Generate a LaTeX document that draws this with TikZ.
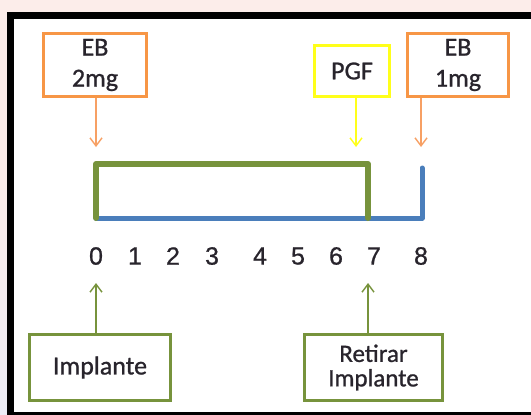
\documentclass[tikz,border=0pt]{standalone}
\usepackage{fontspec}
\setmainfont{Carlito}[FakeBold=0.9]
\newfontfamily\numfont{Liberation Sans}[FakeBold=0.8]
\usetikzlibrary{arrows.meta}
\definecolor{pinkbg}{HTML}{FCEDEA}
\definecolor{lavbg}{HTML}{EDEDF6}
\definecolor{ebor}{HTML}{F79646}
\definecolor{ebarrow}{HTML}{F7A064}
\definecolor{pgfy}{HTML}{FFFF1A}
\definecolor{grn}{HTML}{77933C}
\definecolor{blu}{HTML}{4A7EBB}
\definecolor{txt}{HTML}{28242C}
\tikzset{
  box/.style={draw, line width=3pt, fill=white, inner sep=0pt, align=center,
    text=txt, font=\fontsize{26}{31}\selectfont},
  pointer/.style={line width=1.4pt, -{Straight Barb[length=8pt,width=12pt,line width=1.4pt]}},
  daylabel/.style={text=txt, font=\numfont\fontsize{25}{25}\selectfont, inner sep=0pt}
}
\begin{document}
\begin{tikzpicture}[x=1pt,y=-1pt]
\useasboundingbox (0,0) rectangle (531,415);
% page background and black frame
\fill[pinkbg] (0,0) rectangle (531,415);
\shade[top color=pinkbg, bottom color=lavbg] (0,180) rectangle (7,415);
\fill[black] (7,12) rectangle (531,415);
\fill[white] (14,19) rectangle (531,412);

% hormone boxes
\node[box, draw=ebor, minimum width=103pt, minimum height=63pt] (eb2) at (95,65) {EB\\2mg};
\node[box, draw=pgfy, minimum width=75pt, minimum height=51pt] (pgf) at (352,71) {PGF};
\node[box, draw=ebor, minimum width=101pt, minimum height=63pt] (eb1) at (458,65) {EB\\1mg};

% implant boxes
\node[box, draw=grn, line width=3.5pt, minimum width=141pt, minimum height=66pt] (impl) at (100,367.5) {Implante};
\node[box, draw=grn, line width=3.5pt, minimum width=138pt, minimum height=66pt,
      font=\fontsize{25}{24.5}\selectfont] (ret) at (373.5,367.5) {Retirar\\Implante};

% timeline
\coordinate (t0) at (96,218);
\coordinate (t7) at (368,218);
\coordinate (t8) at (422,218);
\coordinate (g0) at (96,164);
\coordinate (g7) at (368,164);
\coordinate (b8) at (422,168);
\draw[blu, line width=5pt, line cap=round, line join=round] (t0) -- (t8) -- (b8);
\draw[grn, line width=6pt, line cap=round, line join=round] (t0) -- (g0) -- (g7) -- (t7);

% day numbers
\foreach \d/\x in {0/96,1/135,2/173,3/212,4/260,5/298,6/336,7/374,8/421}
  \node[daylabel] (d\d) at (\x,256) {\d};

% arrows
\coordinate (a0) at (96,147);
\coordinate (a7) at (356,147);
\coordinate (a8) at (421,147);
\draw[pointer, ebarrow] (eb2.south -| a0) -- (a0);
\draw[pointer, pgfy] (pgf.south -| a7) -- (a7);
\draw[pointer, ebarrow] (eb1.south -| a8) -- (a8);
\coordinate (u0) at (96,283);
\coordinate (u7) at (368,283);
\draw[pointer, grn] (impl.north -| u0) -- (u0);
\draw[pointer, grn] (ret.north -| u7) -- (u7);
\end{tikzpicture}
\end{document}
